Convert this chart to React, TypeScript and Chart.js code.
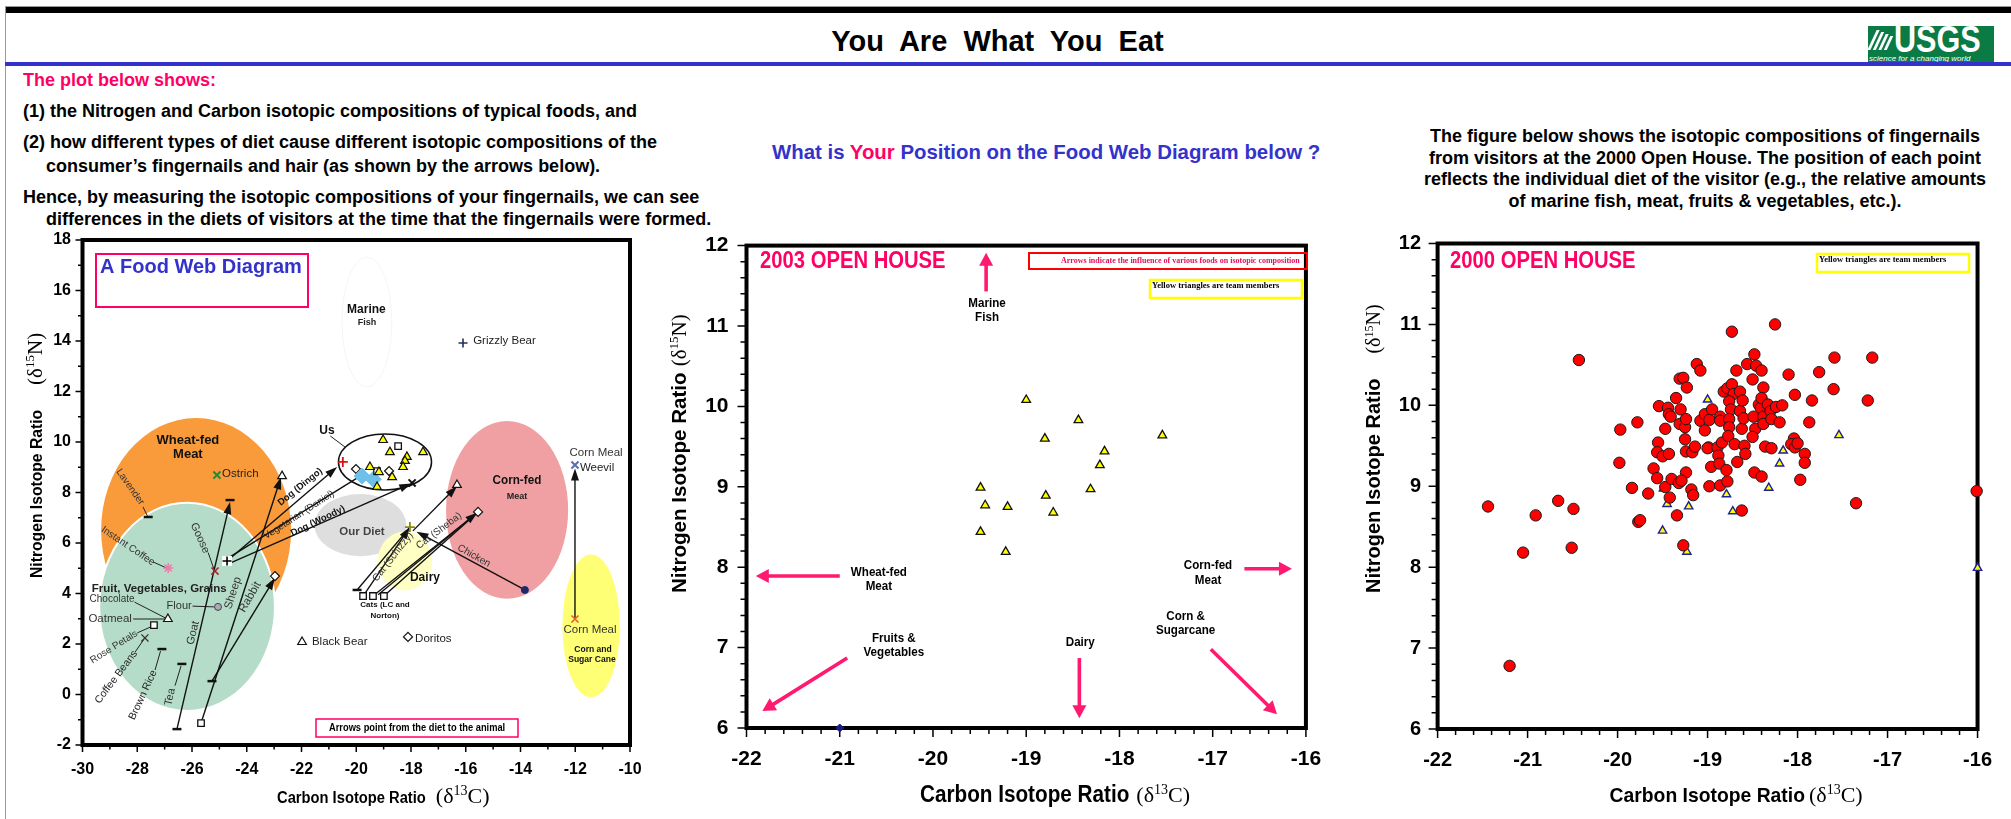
import React, { useEffect, useRef } from 'react';
import { Chart, registerables } from 'chart.js';

Chart.register(...registerables);

const SANS = '"Liberation Sans", Arial, Helvetica, sans-serif';
const SERIF = '"Liberation Serif", "Times New Roman", Times, serif';
const PINK = '#ff0066';
const BLUE = '#3333cc';
const CUE = '#ff1a70';

// ================= Panel 1 : A Food Web Diagram =================
const webCTicks = [-30, -28, -26, -24, -22, -20, -18, -16, -14, -12, -10];
const webNTicks = [-2, 0, 2, 4, 6, 8, 10, 12, 14, 16, 18];

const zoneName = ['Marine Fish', 'Wheat-fed Meat', 'Fruit, Vegetables, Grains', 'Our Diet', 'Dairy', 'Corn-fed Meat', 'Corn and Sugar Cane', 'Us'];
const zoneC = [-19.61, -25.85, -26.18, -19.85, -18.22, -14.49, -11.42, -18.95];
const zoneN = [14.75, 6.51, 3.47, 6.71, 5.29, 7.31, 2.71, 9.21];
const zoneHalfC = [0.91, 3.47, 3.21, 1.68, 0.99, 2.23, 1.05, 1.7];
const zoneHalfN = [2.57, 4.44, 4.12, 1.23, 1.17, 3.52, 2.83, 1.11];

const foodName = ['Lavender', 'Instant Coffee', 'Ostrich', 'Goose', 'Oatmeal', 'Flour', 'Rose Petals', 'Coffee Beans', 'Brown Rice', 'Tea',
  'Goat diet', 'Sheep diet', 'Rabbit diet', 'Goat', 'Sheep', 'Rabbit', 'Dog diet', 'Dog diet', 'Black Bear', 'Grizzly Bear',
  'Doritos', 'Cat food', 'Cat food LC', 'Cat food', 'Cat food Norton', 'Cat (Schizzy)', 'Cat (Sheba)', 'Cat', 'Chicken', 'Dog (Woody)',
  'Corn Meal', 'Corn Meal Weevil', 'Us', 'Us', 'Vegetarian (Daniel)', 'Vegetarian (Daniel)', 'Us', 'Us', 'Us'];
const foodC = [-27.6, -26.87, -25.09, -25.16, -26.88, -25.05, -27.39, -27.72, -27.1, -26.37,
  -26.55, -25.67, -25.27, -24.61, -22.71, -22.97, -24.72, -24.72, -21.98, -16.1,
  -18.11, -19.97, -19.75, -19.39, -18.99, -18.04, -15.55, -16.32, -13.84, -17.96,
  -12.01, -12.01, -20.49, -20.01, -19.79, -19.38, -18.47, -19.24, -18.8];
const foodN = [7.03, 5.01, 8.69, 4.89, 2.99, 3.47, 2.75, 2.24, 1.8, 1.21,
  -1.37, -1.13, 0.53, 7.7, 8.65, 4.69, 5.29, 5.29, 2.08, 13.92,
  2.28, 4.14, 3.9, 3.9, 3.9, 6.63, 7.23, 8.3, 4.14, 8.38,
  2.99, 9.09, 9.21, 8.93, 8.65, 8.52, 9.84, 8.85, 8.85];
const foodMark = ['dash', 'star', 'xGreen', 'xRed', 'tri', 'dotGrey', 'sq', 'xGrey', 'dash', 'dash',
  'dash', 'sq', 'dash', 'dash', 'tri', 'dia', 'box', 'plusBlack', 'tri', 'plusNavy',
  'dia', 'dash', 'sq', 'sq', 'sq', 'plusOlive', 'dia', 'tri', 'dotNavy', 'xBlack',
  'xOrange', 'xBlue', 'plusRed', 'dia', 'blob', 'blob', 'sq', 'sq', 'dia'];

const usTeamC = [-19.02, -18.77, -18.15, -17.56, -18.22, -18.29, -19.5, -19.17, -18.69, -19.24];
const usTeamN = [10.08, 9.6, 9.41, 9.6, 9.25, 9.01, 9.01, 8.81, 8.61, 8.22];

const webArrowFrom = [[-26.55, -1.37], [-25.67, -1.13], [-25.27, 0.53], [-24.72, 5.29], [-24.61, 5.45], [-24.61, 5.2], [-19.75, 3.9], [-19.97, 4.14], [-19.39, 3.9], [-18.99, 3.9], [-19.2, 3.95], [-17.93, 6.48], [-13.84, 4.14], [-12.01, 2.99]];
const webArrowTo = [[-24.61, 7.62], [-22.75, 8.6], [-22.97, 4.62], [-20.7, 9.01], [-19.9, 8.62], [-17.99, 8.36], [-18.04, 6.63], [-18.06, 6.6], [-15.58, 7.2], [-15.58, 7.2], [-15.58, 7.2], [-16.32, 8.25], [-17.8, 6.45], [-12.01, 8.95]];
const webArrowHead = [true, true, true, true, false, true, true, false, true, false, false, true, true, true];

const leaderFrom = [[-20.95, 10.24], [-27.79, 7.43], [-28.1, 3.66], [-28.15, 2.99], [-25.98, 3.5], [-28.0, 2.44], [-28.08, 1.68], [-27.35, 0.97], [-26.62, 0.35], [-25.41, 5.62], [-27.42, 5.25]];
const leaderTo = [[-20.41, 9.8], [-27.62, 7.05], [-26.95, 3.02], [-27.0, 2.99], [-25.2, 3.47], [-27.5, 2.68], [-27.76, 2.18], [-27.15, 1.72], [-26.4, 1.13], [-25.2, 4.97], [-26.95, 5.02]];

const webLabelText = ['Marine', 'Fish', 'Grizzly Bear', 'Wheat-fed', 'Meat', 'Ostrich', 'Lavender', 'Instant Coffee', 'Goose',
  'Fruit, Vegetables, Grains', 'Chocolate', 'Oatmeal', 'Flour', 'Rose Petals', 'Coffee Beans', 'Brown Rice', 'Tea', 'Goat', 'Sheep', 'Rabbit',
  'Black Bear', 'Our Diet', 'Dairy', 'Us', 'Dog (Dingo)', 'Vegetarian (Daniel)', 'Dog (Woody)', 'Cat (Schizzy)', 'Cat (Sheba)', 'Chicken',
  'Cats (LC and', 'Norton)', 'Doritos', 'Corn-fed', 'Meat', 'Corn Meal', 'Weevil', 'Corn Meal', 'Corn and', 'Sugar Cane'];
const webLabelC = [-19.63, -19.61, -15.73, -26.15, -26.15, -24.9, -28.26, -28.34, -25.71,
  -27.2, -28.92, -28.99, -26.47, -28.85, -28.77, -27.79, -26.8, -25.96, -24.5, -23.88,
  -21.62, -19.79, -17.49, -21.07, -22.05, -22.09, -21.4, -18.66, -16.98, -15.7,
  -18.95, -18.95, -17.85, -14.13, -14.13, -11.24, -11.83, -11.46, -11.35, -11.39];
const webLabelN = [15.23, 14.75, 14.0, 10.08, 9.52, 8.73, 8.22, 5.88, 6.2,
  4.18, 3.78, 2.99, 3.5, 1.88, 0.69, -0.02, -0.1, 2.44, 4.02, 3.86,
  2.08, 6.44, 4.61, 10.44, 8.22, 7.11, 6.87, 5.45, 6.48, 5.49,
  3.54, 3.11, 2.2, 8.46, 7.86, 9.56, 8.97, 2.55, 1.8, 1.41];
const webLabelAngle = [0, 0, 0, 0, 0, 0, 55, 34, 66,
  0, 0, 0, 0, -32, -53, -65, -78, -76, -72, -60,
  0, 0, 0, 0, -39, -33, -26, -52, -37, 29,
  0, 0, 0, 0, 0, 0, 0, 0, 0, 0];
const webLabelKind = ['zone12', 'zone9', 'foodL', 'zone13', 'zone13', 'foodL', 'food10', 'food10', 'food11',
  'zone115', 'food10', 'food115', 'food11', 'food10', 'food105', 'food105', 'food11', 'food11', 'food115', 'food115',
  'foodL', 'zoneGrey', 'zone12', 'zone12', 'animal', 'food9', 'animal', 'food10', 'food10', 'food10',
  'tiny', 'tiny', 'foodL', 'zone11', 'zone9', 'food115', 'foodL', 'food115', 'tiny9', 'tiny9'];

// ================= Panel 2 : 2003 Open House =================
const cTicks = [-22, -21, -20, -19, -18, -17, -16];
const nTicks = [6, 7, 8, 9, 10, 11, 12];
const team2003C = [-19.0, -18.44, -18.8, -17.54, -18.16, -18.21, -18.31, -19.49, -18.79, -19.44, -19.2, -18.71, -19.49, -19.22];
const team2003N = [10.08, 9.83, 9.6, 9.64, 9.44, 9.27, 8.97, 8.99, 8.89, 8.77, 8.75, 8.68, 8.44, 8.19];
const other2003C = [-21.0];
const other2003N = [6.0];
const cueName = ['Marine Fish', 'Wheat-fed Meat', 'Corn-fed Meat', 'Fruits & Vegetables', 'Dairy', 'Corn & Sugarcane'];
const cueFrom = [[-19.43, 11.43], [-21.0, 7.89], [-16.66, 7.98], [-20.92, 6.87], [-18.43, 6.87], [-17.02, 6.98]];
const cueTo = [[-19.43, 11.91], [-21.9, 7.89], [-16.15, 7.98], [-21.83, 6.21], [-18.43, 6.12], [-16.31, 6.17]];
const cueLabelText = ['Marine', 'Fish', 'Wheat-fed', 'Meat', 'Corn-fed', 'Meat', 'Fruits &', 'Vegetables', 'Dairy', 'Corn &', 'Sugarcane'];
const cueLabelC = [-19.42, -19.42, -20.58, -20.58, -17.05, -17.05, -20.42, -20.42, -18.42, -17.29, -17.29];
const cueLabelN = [11.28, 11.11, 7.94, 7.76, 8.02, 7.84, 7.11, 6.94, 7.06, 7.39, 7.22];

// ================= Panel 3 : 2000 Open House =================
const visitorC = [-21.44, -21.05, -20.91, -20.66, -20.49, -20.51, -20.43, -19.98, -19.97, -19.78,
  -19.84, -19.66, -19.77, -19.75, -19.54, -19.44, -19.43, -19.41, -19.47, -19.55,
  -19.56, -19.5, -19.43, -19.6, -19.56, -19.47, -19.4, -19.42, -19.34, -19.27,
  -19.35, -19.31, -19.27, -19.23, -19.3, -19.31, -19.25, -19.24, -19.25, -19.24,
  -19.24, -19.32, -19.29, -19.18, -19.16, -19.12, -19.08, -19.17, -19.14, -19.08,
  -19.03, -19.03, -18.98, -18.99, -19.0, -18.95, -18.96, -18.98, -18.89, -18.88,
  -18.87, -18.86, -18.86, -18.86, -18.84, -18.79, -18.78, -18.82, -18.78, -18.73,
  -18.73, -18.71, -18.68, -18.76, -18.74, -18.76, -18.76, -18.77, -18.7, -18.67,
  -18.64, -18.64, -18.62, -18.61, -18.6, -18.59, -18.58, -18.62, -18.56, -18.5,
  -18.48, -18.46, -18.4, -18.38, -18.49, -18.47, -18.5, -18.48, -18.4, -18.43,
  -18.41, -18.4, -18.38, -18.38, -18.36, -18.33, -18.3, -18.29, -18.29, -18.25,
  -18.24, -18.2, -18.17, -18.1, -18.03, -18.04, -18.07, -18.03, -18.0, -17.97,
  -17.92, -17.92, -17.87, -17.84, -17.76, -17.6, -17.59, -17.35, -17.22, -17.17, -16.01, -21.2];
const visitorN = [8.75, 8.18, 8.64, 8.82, 8.72, 8.24, 10.56, 9.29, 9.7, 9.79,
  8.98, 8.91, 8.56, 8.58, 9.99, 9.97, 9.89, 9.86, 9.71, 9.54,
  9.42, 9.37, 9.4, 9.22, 9.1, 8.99, 9.09, 8.86, 8.64, 8.27,
  10.09, 10.33, 10.34, 10.22, 9.95, 9.77, 9.73, 9.83, 9.58, 9.43,
  9.17, 9.04, 9.07, 8.96, 8.89, 10.51, 10.43, 9.42, 9.49, 9.81,
  9.89, 9.69, 9.82, 9.48, 9.47, 9.95, 9.24, 9.0, 9.48, 9.38,
  9.28, 9.01, 9.86, 9.81, 9.54, 9.2, 9.06, 10.17, 10.21, 10.26,
  10.91, 10.14, 10.43, 10.05, 9.95, 9.83, 9.73, 9.62, 9.52, 9.3,
  10.17, 9.93, 9.71, 10.06, 9.84, 9.5, 9.4, 8.7, 10.51, 10.32,
  10.63, 10.49, 10.43, 10.22, 9.86, 9.71, 9.61, 9.17, 9.12, 10.01,
  9.97, 10.09, 9.86, 9.77, 9.49, 10.01, 9.93, 9.83, 9.47, 11.0,
  9.98, 9.79, 10.0, 10.38, 10.13, 9.59, 9.52, 9.48, 9.53, 9.08,
  9.4, 9.29, 9.79, 10.06, 10.41, 10.2, 10.59, 8.79, 10.06, 10.59, 8.94, 6.78];
const team2000C = [-19.0, -17.54, -18.16, -18.2, -18.32, -18.79, -19.45, -19.21, -18.72, -19.5, -19.23, -19.49, -16.0, -18.44, -18.8];
const team2000N = [10.07, 9.63, 9.44, 9.28, 8.98, 8.9, 8.78, 8.75, 8.69, 8.45, 8.19, 8.97, 7.99, 9.83, 9.6];

// ================= styles =================
const MARK: any = {
  dash: { s: 'line', r: 4.5, bg: '#111', bd: '#111', bw: 2.5 },
  star: { s: 'star', r: 5, bg: '#f48cb0', bd: '#ee7aa5', bw: 1.5 },
  xGreen: { s: 'crossRot', r: 5, bg: '#1e8a3a', bd: '#1e8a3a', bw: 2 },
  xRed: { s: 'crossRot', r: 5, bg: '#a02a2a', bd: '#a02a2a', bw: 1.6 },
  xGrey: { s: 'crossRot', r: 5, bg: '#333', bd: '#333', bw: 1.3 },
  xBlack: { s: 'crossRot', r: 5, bg: '#111', bd: '#111', bw: 2 },
  xOrange: { s: 'crossRot', r: 5, bg: '#f05a28', bd: '#f05a28', bw: 1.6 },
  xBlue: { s: 'crossRot', r: 5, bg: '#5d6cb0', bd: '#5d6cb0', bw: 2 },
  tri: { s: 'triangle', r: 5, bg: '#fff', bd: '#111', bw: 1.2 },
  sq: { s: 'rect', r: 4.6, bg: '#fff', bd: '#111', bw: 1.3 },
  dia: { s: 'rectRot', r: 4.5, bg: '#fff', bd: '#111', bw: 1.2 },
  box: { s: 'rect', r: 7, bg: '#fff', bd: '#fff', bw: 0 },
  plusBlack: { s: 'cross', r: 4.5, bg: '#000', bd: '#000', bw: 1.6 },
  plusNavy: { s: 'cross', r: 4.5, bg: '#23305a', bd: '#23305a', bw: 1.6 },
  plusRed: { s: 'cross', r: 5, bg: '#e01010', bd: '#e01010', bw: 1.8 },
  plusOlive: { s: 'cross', r: 5, bg: '#8a8a10', bd: '#8a8a10', bw: 1.8 },
  dotGrey: { s: 'circle', r: 3.5, bg: '#b0a8b8', bd: '#444', bw: 1 },
  dotNavy: { s: 'circle', r: 3.5, bg: '#1f2a6a', bd: '#1f2a6a', bw: 1 },
  blob: { s: 'rectRot', r: 8, bg: '#6ec0ea', bd: '#6ec0ea', bw: 1 },
};
const ZONE_STYLE = [
  { fill: null, stroke: '#f5f5f5', w: 1 },
  { fill: '#f99b3a', stroke: null, w: 0 },
  { fill: '#b5dcc9', stroke: '#ffffff', w: 2 },
  { fill: '#dedede', stroke: null, w: 0 },
  { fill: '#ffffc4', stroke: null, w: 0 },
  { fill: '#f0a0a3', stroke: null, w: 0 },
  { fill: '#ffff75', stroke: null, w: 0 },
  { fill: '#ffffff', stroke: '#111', w: 1.5 },
];
const LABEL_STYLE: any = {
  zone13: { size: 13, bold: true, color: '#111', align: 'center', sx: 1 },
  zone12: { size: 12, bold: true, color: '#111', align: 'center', sx: 1 },
  zone115: { size: 11.5, bold: true, color: '#222', align: 'center', sx: 1 },
  zone11: { size: 13, bold: true, color: '#111', align: 'center', sx: 0.9 },
  zone9: { size: 9, bold: true, color: '#222', align: 'center', sx: 1 },
  zoneGrey: { size: 11.5, bold: true, color: '#444', align: 'center', sx: 1 },
  foodL: { size: 11.5, bold: false, color: '#222', align: 'left', sx: 1 },
  food115: { size: 11.5, bold: false, color: '#333', align: 'center', sx: 1 },
  food11: { size: 11, bold: false, color: '#333', align: 'center', sx: 1 },
  food105: { size: 10.5, bold: false, color: '#222', align: 'center', sx: 1 },
  food10: { size: 10, bold: false, color: '#333', align: 'center', sx: 1 },
  food9: { size: 9.5, bold: false, color: '#222', align: 'center', sx: 1 },
  animal: { size: 9.5, bold: true, color: '#111', align: 'center', sx: 1 },
  tiny: { size: 8, bold: true, color: '#111', align: 'center', sx: 1 },
  tiny9: { size: 9.5, bold: true, color: '#111', align: 'center', sx: 0.9 },
};

// ================= helpers =================
function txt(ctx: any, s: string, x: number, y: number, o: any) {
  ctx.save();
  ctx.translate(x, y);
  if (o.rot) ctx.rotate((o.rot * Math.PI) / 180);
  ctx.scale(o.sx || 1, 1);
  ctx.font = `${o.bold ? 'bold ' : ''}${o.size}px ${o.family || SANS}`;
  ctx.fillStyle = o.color || '#000';
  ctx.textAlign = o.align || 'center';
  ctx.textBaseline = o.baseline || 'middle';
  ctx.fillText(s, 0, 0);
  ctx.restore();
}

function arrow(ctx: any, x1: number, y1: number, x2: number, y2: number, color: string, width: number, head: boolean, hl: number, hw: number) {
  const a = Math.atan2(y2 - y1, x2 - x1);
  const ex = head ? x2 - Math.cos(a) * hl * 0.8 : x2;
  const ey = head ? y2 - Math.sin(a) * hl * 0.8 : y2;
  ctx.save();
  ctx.strokeStyle = color;
  ctx.fillStyle = color;
  ctx.lineWidth = width;
  ctx.beginPath();
  ctx.moveTo(x1, y1);
  ctx.lineTo(ex, ey);
  ctx.stroke();
  if (head) {
    const bx = x2 - Math.cos(a) * hl;
    const by = y2 - Math.sin(a) * hl;
    const nx = (-Math.sin(a) * hw) / 2;
    const ny = (Math.cos(a) * hw) / 2;
    ctx.beginPath();
    ctx.moveTo(x2, y2);
    ctx.lineTo(bx + nx, by + ny);
    ctx.lineTo(bx - nx, by - ny);
    ctx.closePath();
    ctx.fill();
  }
  ctx.restore();
}

function frame(chart: any, f: any) {
  const { ctx, chartArea: a } = chart;
  const xs = chart.scales.x;
  const ys = chart.scales.y;
  ctx.save();
  ctx.strokeStyle = '#000';
  ctx.lineWidth = f.tickW;
  ctx.beginPath();
  const nx = Math.round((xs.max - xs.min) / f.xMinor);
  for (let i = 0; i <= nx; i++) {
    const v = xs.min + i * f.xMinor;
    const p = xs.getPixelForValue(v);
    const major = Math.abs(v / f.xMajor - Math.round(v / f.xMajor)) < 1e-6;
    ctx.moveTo(p, a.bottom);
    ctx.lineTo(p, a.bottom + (major ? f.major : f.minor));
  }
  const ny = Math.round((ys.max - ys.min) / f.yMinor);
  for (let i = 0; i <= ny; i++) {
    const v = ys.min + i * f.yMinor;
    const p = ys.getPixelForValue(v);
    const major = Math.abs(v / f.yMajor - Math.round(v / f.yMajor)) < 1e-6;
    ctx.moveTo(a.left, p);
    ctx.lineTo(a.left - (major ? f.major : f.minor), p);
  }
  ctx.stroke();
  ctx.lineWidth = f.border;
  ctx.strokeRect(a.left, a.top, a.right - a.left, a.bottom - a.top);
  ctx.restore();
}

function delta(ctx: any, cx: number, s: number, sup: string, el: string) {
  ctx.font = `${s}px ${SERIF}`;
  ctx.fillText('(\u03b4', cx, 0);
  cx += ctx.measureText('(\u03b4').width;
  ctx.font = `${Math.round(s * 0.62)}px ${SERIF}`;
  ctx.fillText(sup, cx, -s * 0.36);
  cx += ctx.measureText(sup).width;
  ctx.font = `${s}px ${SERIF}`;
  ctx.fillText(el + ')', cx, 0);
}

function xTitle(ctx: any, X: number, Y: number, size: number, sx: number, gap: number, ss: number) {
  ctx.save();
  ctx.translate(X, Y);
  ctx.fillStyle = '#000';
  ctx.textAlign = 'left';
  ctx.textBaseline = 'alphabetic';
  ctx.font = `bold ${size}px ${SANS}`;
  const t = 'Carbon Isotope Ratio';
  const w = ctx.measureText(t).width * sx;
  ctx.save();
  ctx.scale(sx, 1);
  ctx.fillText(t, 0, 0);
  ctx.restore();
  delta(ctx, w + gap, ss, '13', 'C');
  ctx.restore();
}

function yTitle(ctx: any, X: number, Y: number, size: number, sx: number, gap: number, ss: number) {
  ctx.save();
  ctx.translate(X, Y);
  ctx.rotate(-Math.PI / 2);
  ctx.fillStyle = '#000';
  ctx.textAlign = 'left';
  ctx.textBaseline = 'alphabetic';
  ctx.font = `bold ${size}px ${SANS}`;
  const t = 'Nitrogen Isotope Ratio';
  const w = ctx.measureText(t).width * sx;
  ctx.save();
  ctx.scale(sx, 1);
  ctx.fillText(t, 0, 0);
  ctx.restore();
  delta(ctx, w + gap, ss, '15', 'N');
  ctx.restore();
}

function noteBox(ctx: any, x1: number, y1: number, x2: number, y2: number, stroke: string, lw: number, text: string, tx: number, ty: number, font: string, color: string) {
  ctx.save();
  ctx.strokeStyle = stroke;
  ctx.lineWidth = lw;
  ctx.strokeRect(x1, y1, x2 - x1, y2 - y1);
  ctx.beginPath();
  ctx.rect(x1, y1 - 4, x2 - x1, y2 - y1 + 8);
  ctx.clip();
  ctx.font = font;
  ctx.fillStyle = color;
  ctx.textAlign = 'left';
  ctx.textBaseline = 'middle';
  ctx.fillText(text, tx, ty);
  ctx.restore();
}

function makeOptions(o: any) {
  return {
    responsive: false,
    animation: false,
    devicePixelRatio: 1,
    events: [],
    layout: { padding: { top: o.padTop, right: o.padRight, left: 0, bottom: 0 } },
    plugins: { legend: { display: false }, tooltip: { enabled: false }, title: { display: false } },
    scales: {
      x: {
        type: 'linear',
        min: o.xTicks[0],
        max: o.xTicks[o.xTicks.length - 1],
        grid: { display: false, drawTicks: false },
        border: { display: false },
        afterBuildTicks: (s: any) => { s.ticks = o.xTicks.map((v: number) => ({ value: v })); },
        afterFit: (s: any) => { s.height = o.xHeight; },
        ticks: { color: '#000', padding: o.xPad, autoSkip: false, maxRotation: 0, minRotation: 0, font: { family: SANS, size: o.tick, weight: 'bold' }, callback: (v: any) => String(v) },
      },
      y: {
        type: 'linear',
        min: o.yTicks[0],
        max: o.yTicks[o.yTicks.length - 1],
        grid: { display: false, drawTicks: false },
        border: { display: false },
        afterBuildTicks: (s: any) => { s.ticks = o.yTicks.map((v: number) => ({ value: v })); },
        afterFit: (s: any) => { s.width = o.yWidth; },
        ticks: { color: '#000', padding: o.yPad, autoSkip: false, font: { family: SANS, size: o.tick, weight: 'bold' }, callback: (v: any) => String(v) },
      },
    },
  };
}

const pts = (cs: number[], ns: number[]) => cs.map((c, i) => ({ x: c, y: ns[i] }));

// ================= component =================
export default function App() {
  const webRef = useRef<HTMLCanvasElement>(null);
  const midRef = useRef<HTMLCanvasElement>(null);
  const rightRef = useRef<HTMLCanvasElement>(null);

  useEffect(() => {
    const charts: any[] = [];
    const TOP = 215;

    // ---------- panel 1 ----------
    const webOX = 0;
    const webPlugin = {
      id: 'web',
      beforeDatasetsDraw(chart: any) {
        const { ctx } = chart;
        const xs = chart.scales.x;
        const ys = chart.scales.y;
        zoneName.forEach((_, i) => {
          const st = ZONE_STYLE[i];
          const cx = xs.getPixelForValue(zoneC[i]);
          const cy = ys.getPixelForValue(zoneN[i]);
          const rx = Math.abs(xs.getPixelForValue(zoneC[i] + zoneHalfC[i]) - cx);
          const ry = Math.abs(ys.getPixelForValue(zoneN[i] + zoneHalfN[i]) - cy);
          ctx.save();
          ctx.beginPath();
          ctx.ellipse(cx, cy, rx, ry, 0, 0, Math.PI * 2);
          if (st.fill) { ctx.fillStyle = st.fill; ctx.fill(); }
          if (st.stroke) { ctx.strokeStyle = st.stroke; ctx.lineWidth = st.w; ctx.stroke(); }
          ctx.restore();
        });
        frame(chart, { border: 4, tickW: 1.5, xMinor: 1, xMajor: 2, yMinor: 1, yMajor: 2, major: 7, minor: 4.5 });
        leaderFrom.forEach((f, i) => {
          const t = leaderTo[i];
          arrow(ctx, xs.getPixelForValue(f[0]), ys.getPixelForValue(f[1]), xs.getPixelForValue(t[0]), ys.getPixelForValue(t[1]), '#222', 1, false, 0, 0);
        });
        webArrowFrom.forEach((f, i) => {
          const t = webArrowTo[i];
          arrow(ctx, xs.getPixelForValue(f[0]), ys.getPixelForValue(f[1]), xs.getPixelForValue(t[0]), ys.getPixelForValue(t[1]), '#111', 1.4, webArrowHead[i], 12, 8);
        });
      },
      afterDatasetsDraw(chart: any) {
        const { ctx } = chart;
        const xs = chart.scales.x;
        const ys = chart.scales.y;
        webLabelText.forEach((t, i) => {
          const st = LABEL_STYLE[webLabelKind[i]];
          txt(ctx, t, xs.getPixelForValue(webLabelC[i]), ys.getPixelForValue(webLabelN[i]), { ...st, rot: webLabelAngle[i] });
        });
        ctx.save();
        ctx.translate(-webOX, -TOP);
        ctx.strokeStyle = PINK;
        ctx.lineWidth = 2;
        ctx.strokeRect(96, 254, 212, 53);
        txt(ctx, 'A Food Web Diagram', 100, 267, { size: 20, bold: true, color: BLUE, align: 'left' });
        ctx.lineWidth = 1.5;
        ctx.strokeRect(316, 719, 202, 18);
        txt(ctx, 'Arrows point from the diet to the animal', 329, 728.5, { size: 10, bold: true, color: '#000', align: 'left', sx: 0.93 });
        xTitle(ctx, 277, 803, 16, 0.92, 10, 22);
        yTitle(ctx, 42, 578, 16, 0.98, 25, 21);
        ctx.restore();
      },
    };
    const webMarks = foodMark.map((m) => MARK[m]);
    charts.push(new Chart(webRef.current as any, {
      type: 'scatter',
      data: {
        datasets: [
          { label: 'Team members', data: pts(usTeamC, usTeamN), pointStyle: 'triangle', pointRadius: 5, pointBackgroundColor: '#ffff00', pointBorderColor: '#111', pointBorderWidth: 1.2, clip: false },
          {
            label: 'Foods and consumers', data: pts(foodC, foodN),
            pointStyle: webMarks.map((m) => m.s), pointRadius: webMarks.map((m) => m.r),
            pointBackgroundColor: webMarks.map((m) => m.bg), pointBorderColor: webMarks.map((m) => m.bd), pointBorderWidth: webMarks.map((m) => m.bw), clip: false,
          },
        ],
      },
      options: makeOptions({ xTicks: webCTicks, yTicks: webNTicks, padTop: 240 - TOP, padRight: 680 - 630, xHeight: 604 - (745 - TOP), yWidth: 82.5, tick: 16, xPad: 15.4, yPad: 11.5 }) as any,
      plugins: [webPlugin],
    }));

    // ---------- panel 2 ----------
    const midOX = 640;
    const midPlugin = {
      id: 'mid',
      beforeDatasetsDraw(chart: any) {
        frame(chart, { border: 4, tickW: 1.5, xMinor: 0.2, xMajor: 1, yMinor: 0.2, yMajor: 1, major: 9, minor: 6 });
      },
      afterDatasetsDraw(chart: any) {
        const { ctx } = chart;
        const xs = chart.scales.x;
        const ys = chart.scales.y;
        cueFrom.forEach((f, i) => {
          const t = cueTo[i];
          arrow(ctx, xs.getPixelForValue(f[0]), ys.getPixelForValue(f[1]), xs.getPixelForValue(t[0]), ys.getPixelForValue(t[1]), CUE, 3.6, true, 13, 14);
        });
        cueLabelText.forEach((t, i) => {
          txt(ctx, t, xs.getPixelForValue(cueLabelC[i]), ys.getPixelForValue(cueLabelN[i]), { size: 13.5, bold: true, color: '#000', sx: 0.86 });
        });
        ctx.save();
        ctx.translate(-midOX, -TOP);
        txt(ctx, '2003 OPEN HOUSE', 760, 262, { size: 23, bold: true, color: PINK, align: 'left', sx: 0.88 });
        noteBox(ctx, 1029, 253, 1307, 269, '#ff0000', 2, 'Arrows indicate the influence of various foods on isotopic composition', 1061, 261, `bold 8px ${SERIF}`, '#e0105a');
        noteBox(ctx, 1150, 280, 1302, 298, '#ffff00', 2.5, 'Yellow triangles are team members', 1152, 286, `bold 8.5px ${SERIF}`, '#000');
        xTitle(ctx, 920, 801.5, 23, 0.9, 7, 22);
        yTitle(ctx, 686, 593, 21, 0.98, 6, 21);
        ctx.restore();
      },
    };
    charts.push(new Chart(midRef.current as any, {
      type: 'scatter',
      data: {
        datasets: [
          { label: 'Team members', data: pts(team2003C, team2003N), pointStyle: 'triangle', pointRadius: 5, pointBackgroundColor: '#ffff00', pointBorderColor: '#111', pointBorderWidth: 1.3, clip: false },
          { label: 'Visitor', data: pts(other2003C, other2003N), pointStyle: 'rectRot', pointRadius: 4, pointBackgroundColor: '#1a1a80', pointBorderColor: '#1a1a80', pointBorderWidth: 1, clip: false },
        ],
      },
      options: makeOptions({ xTicks: cTicks, yTicks: nTicks, padTop: 236 - TOP, padRight: 700 - (1317 - midOX), xHeight: 604 - (728 - TOP), yWidth: 746.5 - midOX, tick: 21, xPad: 18.9, yPad: 18 }) as any,
      plugins: [midPlugin],
    }));

    // ---------- panel 3 ----------
    const rOX = 1340;
    const rightPlugin = {
      id: 'right',
      beforeDatasetsDraw(chart: any) {
        frame(chart, { border: 4, tickW: 1.5, xMinor: 0.2, xMajor: 1, yMinor: 0.2, yMajor: 1, major: 9, minor: 6 });
      },
      afterDatasetsDraw(chart: any) {
        const { ctx } = chart;
        ctx.save();
        ctx.translate(-rOX, -TOP);
        txt(ctx, '2000 OPEN HOUSE', 1450, 262, { size: 23, bold: true, color: PINK, align: 'left', sx: 0.88 });
        noteBox(ctx, 1817, 254, 1969, 272, '#ffff00', 2.5, 'Yellow triangles are team members', 1819, 260, `bold 8.5px ${SERIF}`, '#000');
        xTitle(ctx, 1609.6, 801.5, 21, 0.92, 4, 22);
        yTitle(ctx, 1380, 593, 20, 1, 25, 20);
        ctx.restore();
      },
    };
    charts.push(new Chart(rightRef.current as any, {
      type: 'scatter',
      data: {
        datasets: [
          { label: 'Visitors 2000', data: pts(visitorC, visitorN), pointStyle: 'circle', pointRadius: 5.7, pointBackgroundColor: '#ff0000', pointBorderColor: '#1a1a1a', pointBorderWidth: 1, clip: false },
          { label: 'Team members', data: pts(team2000C, team2000N), pointStyle: 'triangle', pointRadius: 4.8, pointBackgroundColor: '#ffff00', pointBorderColor: '#1f1f99', pointBorderWidth: 1.4, clip: false },
        ],
      },
      options: makeOptions({ xTicks: cTicks, yTicks: nTicks, padTop: 243 - TOP, padRight: 671 - (1990 - rOX), xHeight: 604 - (729 - TOP), yWidth: 1437.6 - rOX, tick: 20, xPad: 19, yPad: 16.5 }) as any,
      plugins: [rightPlugin],
    }));

    return () => charts.forEach((c) => c.destroy());
  }, []);

  const line = (left: number, top: number, extra: any = {}) => ({
    position: 'absolute' as const, left, top, font: `bold 18px/18px ${SANS}`, whiteSpace: 'nowrap' as const, color: '#000', ...extra,
  });

  return (
    <div style={{ position: 'absolute', left: 0, top: 0, width: 2011, height: 819, overflow: 'hidden', background: '#fff', fontFamily: SANS }}>
      <div style={{ position: 'absolute', left: 5, top: 6, width: 2006, height: 1, background: '#9a9a9a' }} />
      <div style={{ position: 'absolute', left: 5, top: 7, width: 2006, height: 6, background: '#000' }} />
      <div style={{ position: 'absolute', left: 5, top: 6, width: 1, height: 813, background: '#9a9a9a' }} />

      <div style={{ position: 'absolute', left: 697.5, top: 27, width: 600, textAlign: 'center', font: `bold 29px/29px ${SANS}`, whiteSpace: 'pre', color: '#000' }}>You  Are  What  You  Eat</div>

      <div style={{ position: 'absolute', left: 1868, top: 26, width: 126, height: 37, background: '#0b7b45', overflow: 'hidden' }}>
        {[0, 1, 2, 3].map((i) => (
          <div key={i} style={{ position: 'absolute', left: 4 + i * 5, top: 4 + i * 2, width: 2.5, height: 20 - i * 2, background: '#fff', transform: 'skewX(-25deg)' }} />
        ))}
        <div style={{ position: 'absolute', left: 26, top: -4, font: `bold 36px/36px ${SANS}`, color: '#fff', transform: 'scaleX(0.85)', transformOrigin: 'left top' }}>USGS</div>
        <div style={{ position: 'absolute', left: 1, top: 28.5, font: `italic 8px/8px ${SANS}`, color: '#fff', whiteSpace: 'nowrap' }}>science for a changing world</div>
      </div>

      <div style={{ position: 'absolute', left: 5, top: 62, width: 2006, height: 4, background: BLUE }} />

      <div style={line(23, 70.7, { color: PINK })}>The plot below shows:</div>
      <div style={line(23, 102.2)}>(1) the Nitrogen and Carbon isotopic compositions of typical foods, and</div>
      <div style={line(23, 133.2)}>(2) how different types of diet cause different isotopic compositions of the</div>
      <div style={line(46, 156.7)}>consumer’s fingernails and hair (as shown by the arrows below).</div>
      <div style={line(23, 187.7)}>Hence, by measuring the isotopic compositions of your fingernails, we can see</div>
      <div style={line(46, 209.7)}>differences in the diets of visitors at the time that the fingernails were formed.</div>

      <div style={{ position: 'absolute', left: 772, top: 141.5, font: `bold 20.4px/20.4px ${SANS}`, color: BLUE, whiteSpace: 'nowrap' }}>
        What is <span style={{ color: PINK }}>Your</span> Position on the Food Web Diagram below ?
      </div>

      <div style={line(1385, 127.2, { width: 640, textAlign: 'center' })}>The figure below shows the isotopic compositions of fingernails</div>
      <div style={line(1385, 148.7, { width: 640, textAlign: 'center' })}>from visitors at the 2000 Open House. The position of each point</div>
      <div style={line(1385, 170.2, { width: 640, textAlign: 'center' })}>reflects the individual diet of the visitor (e.g., the relative amounts</div>
      <div style={line(1385, 192.2, { width: 640, textAlign: 'center' })}>of marine fish, meat, fruits &amp; vegetables, etc.).</div>

      <canvas ref={webRef} width={680} height={604} style={{ position: 'absolute', left: 0, top: 215, width: 680, height: 604 }} />
      <canvas ref={midRef} width={700} height={604} style={{ position: 'absolute', left: 640, top: 215, width: 700, height: 604 }} />
      <canvas ref={rightRef} width={671} height={604} style={{ position: 'absolute', left: 1340, top: 215, width: 671, height: 604 }} />
    </div>
  );
}
